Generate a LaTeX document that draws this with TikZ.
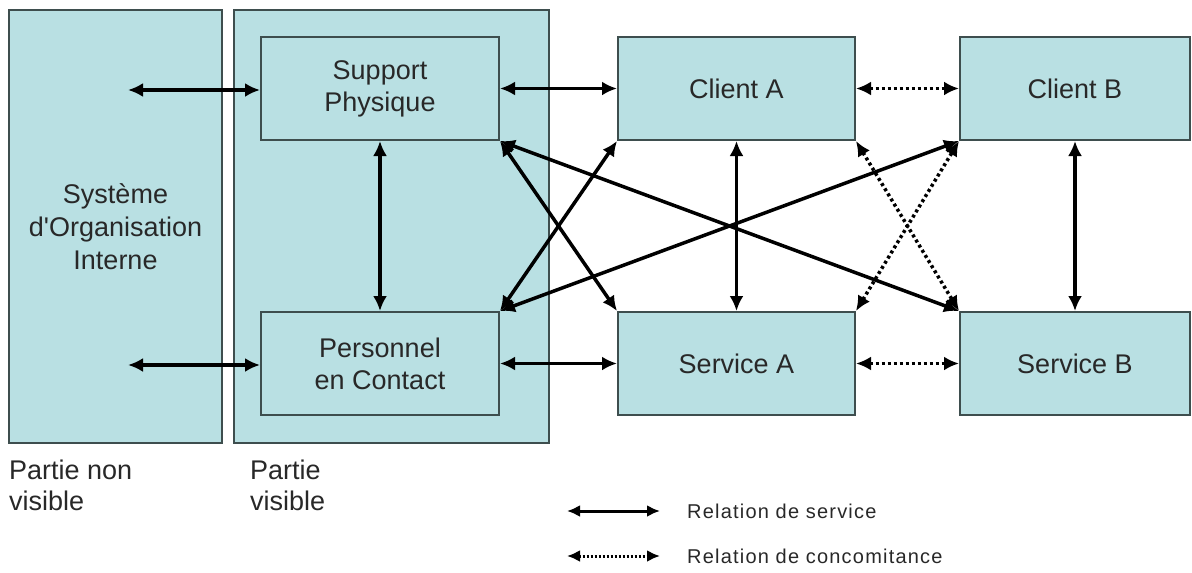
\documentclass[tikz,border=0pt]{standalone}
\usepackage{fontspec}
\setmainfont{Liberation Sans}[Ligatures=TeXOff]
\usetikzlibrary{arrows.meta}
\definecolor{boxfill}{RGB}{185,224,227}
\definecolor{boxline}{RGB}{62,78,78}
\definecolor{txt}{RGB}{40,40,40}
\tikzstyle{zone} = [rectangle, draw=boxline, line width=1.5pt, fill=boxfill, text=txt, align=center, inner sep=0pt, font=\fontsize{27}{33}\selectfont]
\tikzstyle{entity} = [rectangle, draw=boxline, line width=2pt, fill=boxfill, text=txt, align=center, inner sep=0pt, minimum height=103pt, font=\fontsize{27}{32}\selectfont]
\tikzstyle{caption} = [align=left, inner sep=0pt, text=txt, font=\fontsize{27}{31}\selectfont]
\tikzstyle{legend} = [anchor=west, inner sep=0pt, text=txt, font=\fontsize{20}{24}\selectfont\addfontfeature{LetterSpace=6}]
\tikzstyle{service} = [line width=3.5pt, {Latex[length=15pt,width=14pt]}-{Latex[length=15pt,width=14pt]}]
\tikzstyle{concom} = [service, dash pattern=on 3pt off 3pt]
\tikzstyle{legendarrow} = [line width=3pt, {Latex[length=13pt,width=12pt]}-{Latex[length=13pt,width=12pt]}]

\begin{document}
\begin{tikzpicture}[x=1pt, y=-1pt]
\useasboundingbox (0,0) rectangle (1192,573);

% Two zones
\node (SOI) [zone, minimum width=213pt, minimum height=433pt] at (115.5,226.5) {Système\\d'Organisation\\Interne};
\node (PV) [zone, minimum width=315pt, minimum height=433pt] at (391.5,226.5) {};

% Visible part
\node (SP) [entity, minimum width=238pt] at (380,88.5) {Support\\Physique};
\node (PC) [entity, minimum width=238pt] at (380,363.5) {Personnel\\en Contact};

% Clients and services
\node (CA) [entity, minimum width=237pt] at (736.5,88.5) {Client A};
\node (CB) [entity, minimum width=230pt] at (1075,88.5) {Client B};
\node (SA) [entity, minimum width=237pt] at (736.5,363.5) {Service A};
\node (SB) [entity, minimum width=230pt] at (1075,363.5) {Service B};

% Captions
\node (Pnv) [caption, anchor=north west] at (9,460) {Partie non\\visible};
\node (Pv) [caption, anchor=north west] at (250,460) {Partie\\visible};

% Legend
\coordinate (L1a) at (567,511);
\coordinate (L1b) at (660,511);
\coordinate (L2a) at (567,556);
\coordinate (L2b) at (660,556);
\node (L1) [legend] at (687,511) {Relation de service};
\node (L2) [legend] at (687,556) {Relation de concomitance};

% Free ends inside the internal system
\coordinate (I1) at (128,90);
\coordinate (I2) at (128,365);

% Service relations
\draw [service] (I1) -- (I1 -| SP.west);
\draw [service] (I2) -- (I2 -| PC.west);
\draw [service] (SP.east) -- (CA.west);
\draw [service] (PC.east) -- (SA.west);
\draw [service] (SP.south) -- (PC.north);
\draw [service] (CA.south) -- (SA.north);
\draw [service] (CB.south) -- (CB.south |- SB.north);
\draw [service] (SP.south east) -- (SA.north west);
\draw [service] (SP.south east) -- (SB.north west);
\draw [service] (PC.north east) -- (CA.south west);
\draw [service] (PC.north east) -- (CB.south west);

% Concomitance relations
\draw [concom] (CA.east) -- (CB.west);
\draw [concom] (SA.east) -- (SB.west);
\draw [concom] (CA.south east) -- (SB.north west);
\draw [concom] (SA.north east) -- (CB.south west);

\draw [legendarrow] (L1a) -- (L1b);
\draw [legendarrow, dash pattern=on 2pt off 2pt] (L2a) -- (L2b);

\end{tikzpicture}
\end{document}
